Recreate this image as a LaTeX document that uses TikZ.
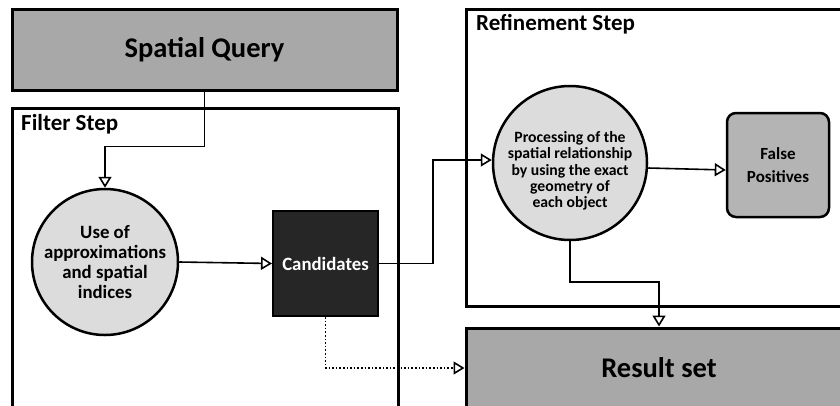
\documentclass[tikz,border=0pt]{standalone}
\usepackage{fontspec}
\setmainfont{Carlito}
\usetikzlibrary{arrows.meta,calc}
\definecolor{boxgray}{HTML}{A8A8A8}
\definecolor{fpgray}{HTML}{B4B4B4}
\definecolor{circgray}{HTML}{DCDCDC}
\definecolor{candblack}{HTML}{262626}
\tikzset{
  frame/.style={draw=black, line width=3pt, inner sep=0pt},
  circ/.style={circle, draw=black, line width=2.5pt, fill=circgray, inner sep=0pt, align=center},
  conn/.style={line width=1.6pt, -{Triangle[open, length=11pt, width=13pt, line width=1.6pt]}},
  dotconn/.style={line width=1.6pt, dotted, -{Triangle[open, length=11pt, width=13pt, line width=1.6pt]}},
  steplabel/.style={anchor=north west, inner sep=0pt, font=\bfseries\fontsize{23}{25}\selectfont}
}
\begin{document}
\begin{tikzpicture}[x=1pt,y=-1pt]
\useasboundingbox (0,0) rectangle (840,405);
\clip (0,0) rectangle (840,405);
\fill[white] (0,0) rectangle (840,405);
% containers
\draw[frame] (12,108) rectangle (398,430);
\node[steplabel] (fl) at (21,114) {Filter Step};
\draw[frame] (466,9) rectangle (852,306);
\node[steplabel] (rl) at (476,14) {Refinement Step};
% nodes
\node[frame, fill=boxgray, minimum width=385pt, minimum height=81pt, font=\bfseries\fontsize{28.5}{30}\selectfont] (sq) at (204.5,49.5) {Spatial Query};
\node[circ, minimum size=146pt, font=\bfseries\fontsize{18.8}{20}\selectfont] (use) at (105,262) {Use of\\approximations\\and spatial\\indices};
\node[draw=black, line width=2pt, fill=candblack, text=white, minimum width=105pt, minimum height=105pt, inner sep=0pt, font=\bfseries\fontsize{18.8}{20}\selectfont] (cand) at (325.5,263.5) {Candidates};
\node[circ, minimum size=154pt, label={[align=center, yshift=-8pt, font=\bfseries\fontsize{15.7}{16.3}\selectfont]center:Processing of the\\spatial relationship\\by using the exact\\geometry of\\each object}] (proc) at (570,163) {};
\node[draw=black, line width=2.5pt, fill=fpgray, rounded corners=9pt, minimum width=102pt, minimum height=104pt, inner sep=0pt, align=center, font=\bfseries\fontsize{17}{23}\selectfont] (fp) at (778,165) {False\\Positives};
\node[frame, fill=boxgray, minimum width=386pt, minimum height=80pt, font=\bfseries\fontsize{28.5}{30}\selectfont] (res) at (659,368) {Result set};
% connectors
\draw[conn] (sq.south) -- ++(0,55) -| (use.north);
\draw[conn] (use.east) -- (cand.west);
\draw[conn] (cand.east) -- ++(54,0) |- ([yshift=3pt]proc.west);
\draw[conn] ([yshift=-5pt]proc.east) -- ([yshift=-5pt]fp.west);
\draw[conn] (proc.south) -- ++(0,41) -| (res.north);
\draw[dotconn] (cand.south) |- (res.west);
\end{tikzpicture}
\end{document}
